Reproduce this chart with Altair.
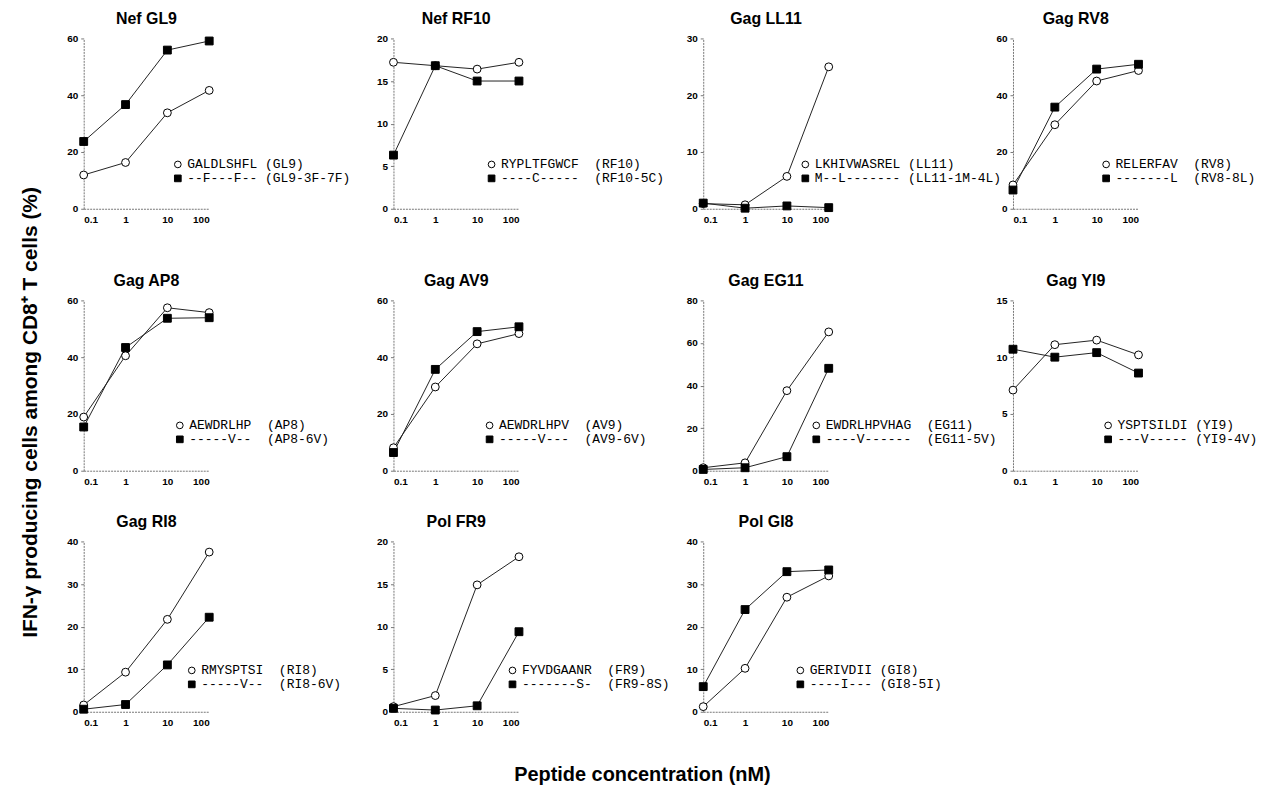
import altair as alt
import pandas as pd

# ---------------- data ----------------
conc = [0.1, 1, 10, 100]

titles = ["Nef GL9", "Nef RF10", "Gag LL11", "Gag RV8",
          "Gag AP8", "Gag AV9", "Gag EG11", "Gag YI9",
          "Gag RI8", "Pol FR9", "Pol GI8"]

NB = "\u00a0"
wt_labels = ["GALDLSHFL" + NB + "(GL9)",
             "RYPLTFGWCF" + NB * 2 + "(RF10)",
             "LKHIVWASREL" + NB + "(LL11)",
             "RELERFAV" + NB * 2 + "(RV8)",
             "AEWDRLHP" + NB * 2 + "(AP8)",
             "AEWDRLHPV" + NB * 2 + "(AV9)",
             "EWDRLHPVHAG" + NB * 2 + "(EG11)",
             "YSPTSILDI" + NB + "(YI9)",
             "RMYSPTSI" + NB * 2 + "(RI8)",
             "FYVDGAANR" + NB * 2 + "(FR9)",
             "GERIVDII" + NB + "(GI8)"]
mut_labels = ["--F---F--" + NB + "(GL9-3F-7F)",
              "----C-----" + NB * 2 + "(RF10-5C)",
              "M--L-------" + NB + "(LL11-1M-4L)",
              "-------L" + NB * 2 + "(RV8-8L)",
              "-----V--" + NB * 2 + "(AP8-6V)",
              "-----V---" + NB * 2 + "(AV9-6V)",
              "----V------" + NB * 2 + "(EG11-5V)",
              "---V-----" + NB + "(YI9-4V)",
              "-----V--" + NB * 2 + "(RI8-6V)",
              "-------S-" + NB * 2 + "(FR9-8S)",
              "----I---" + NB + "(GI8-5I)"]

GL9_wt = [11.9, 16.3, 33.8, 41.7]
GL9_mut = [23.7, 36.7, 55.9, 59.1]
RF10_wt = [17.2, 16.8, 16.4, 17.2]
RF10_mut = [6.3, 16.8, 15.0, 15.0]
LL11_wt = [0.9, 0.7, 5.7, 25.0]
LL11_mut = [1.0, 0.1, 0.5, 0.2]
RV8_wt = [8.4, 29.6, 45.0, 48.7]
RV8_mut = [6.6, 35.8, 49.2, 50.9]
AP8_wt = [18.9, 40.5, 57.4, 55.7]
AP8_mut = [15.4, 43.4, 53.7, 53.9]
AV9_wt = [8.1, 29.5, 44.7, 48.3]
AV9_mut = [6.4, 35.7, 49.0, 50.7]
EG11_wt = [1.4, 3.7, 37.6, 65.2]
EG11_mut = [0.6, 1.4, 6.6, 48.1]
YI9_wt = [7.1, 11.1, 11.5, 10.2]
YI9_mut = [10.7, 10.0, 10.4, 8.6]
RI8_wt = [1.6, 9.3, 21.7, 37.5]
RI8_mut = [0.6, 1.7, 11.0, 22.2]
FR9_wt = [0.6, 1.9, 14.9, 18.2]
FR9_mut = [0.4, 0.2, 0.7, 9.4]
GI8_wt = [1.2, 10.2, 26.9, 31.9]
GI8_mut = [5.9, 24.0, 32.9, 33.3]

wt_values = [GL9_wt, RF10_wt, LL11_wt, RV8_wt, AP8_wt, AV9_wt,
             EG11_wt, YI9_wt, RI8_wt, FR9_wt, GI8_wt]
mut_values = [GL9_mut, RF10_mut, LL11_mut, RV8_mut, AP8_mut, AV9_mut,
              EG11_mut, YI9_mut, RI8_mut, FR9_mut, GI8_mut]

y_max = [60, 20, 30, 60, 60, 60, 80, 15, 40, 20, 40]
y_step = [20, 5, 10, 20, 20, 20, 20, 5, 10, 5, 10]

# ---------------- layout (not data) ----------------
PW, PH = 126, 171
legend_x = [88, 92, 96, 87, 90, 90, 107, 89, 102, 113, 91]
legend_y = [120, 120, 120, 120, 119, 119, 119, 119, 123, 123, 123]

MONO = "Liberation Mono"
SANS = "Liberation Sans"


def panel(i):
    rows = []
    for c, v in zip(conc, wt_values[i]):
        rows.append({"conc": c, "value": v, "series": wt_labels[i]})
    for c, v in zip(conc, mut_values[i]):
        rows.append({"conc": c, "value": v, "series": mut_labels[i]})
    df = pd.DataFrame(rows)
    dom = [wt_labels[i], mut_labels[i]]

    x = alt.X("conc:Q",
              scale=alt.Scale(type="log", domain=[0.1, 100], nice=False),
              axis=alt.Axis(values=conc, format="~g", title=None, ticks=False,
                            grid=False, labelFlush=True, labelPadding=6))
    y = alt.Y("value:Q",
              scale=alt.Scale(domain=[0, y_max[i]], nice=False, zero=True),
              axis=alt.Axis(values=list(range(0, y_max[i] + 1, y_step[i])),
                            title=None, grid=False, tickSize=3, labelPadding=3))
    leg = alt.Legend(title=None, orient="none", legendX=legend_x[i], legendY=legend_y[i],
                     labelFont=MONO, labelFontSize=13, labelColor="black",
                     labelLimit=400, rowPadding=-4, labelOffset=3, symbolSize=45,
                     symbolStrokeWidth=1, padding=0)
    base = alt.Chart(df).encode(x=x, y=y)
    line = base.mark_line(color="#222", strokeWidth=1).encode(detail="series:N")
    pts = base.mark_point(filled=True, size=62, strokeWidth=1, opacity=1).encode(
        shape=alt.Shape("series:N", scale=alt.Scale(domain=dom, range=["circle", "square"]), legend=leg),
        fill=alt.Fill("series:N", scale=alt.Scale(domain=dom, range=["white", "black"]), legend=leg),
        stroke=alt.Stroke("series:N", scale=alt.Scale(domain=dom, range=["black", "black"]), legend=leg),
    )
    return alt.layer(line, pts).properties(
        width=PW, height=PH,
        title=alt.TitleParams(titles[i], frame="group", anchor="middle", offset=6,
                              font=SANS, fontWeight="bold", fontSize=16, color="black"))


def res(c):
    return c.resolve_scale(shape="independent", fill="independent", stroke="independent").resolve_legend(
        shape="independent", fill="independent", stroke="independent")


row1 = res(alt.hconcat(*[panel(i) for i in range(0, 4)], spacing=185, bounds="flush"))
row2 = res(alt.hconcat(*[panel(i) for i in range(4, 8)], spacing=185, bounds="flush"))
row3 = res(alt.hconcat(*[panel(i) for i in range(8, 11)], spacing=185, bounds="flush"))
lower = res(alt.vconcat(row2, row3, spacing=28))
grid = res(alt.vconcat(row1, lower, spacing=49,
                       title=alt.TitleParams("Peptide concentration (nM)", orient="bottom",
                                             anchor="middle", offset=38, dx=-20,
                                             font=SANS, fontWeight="bold", fontSize=20,
                                             color="black")))
chart = res(alt.vconcat(grid, title=alt.TitleParams(
    "IFN-\u03b3 producing cells among CD8\u207a T cells (%)", orient="left",
    anchor="middle", offset=26, dx=-14, font=SANS, fontWeight="bold", fontSize=21,
    color="black")))

chart = chart.properties(padding={"left": 11, "top": 2, "right": 5, "bottom": 5}).configure_view(
    stroke=None
).configure_axis(
    labelFont=SANS, labelFontWeight="bold", labelFontSize=10, labelColor="black",
    domainColor="#777", domainWidth=1, domainDash=[2, 1], tickColor="#777"
)

chart.save("out.html", embed_options={"renderer": "svg", "actions": False})
